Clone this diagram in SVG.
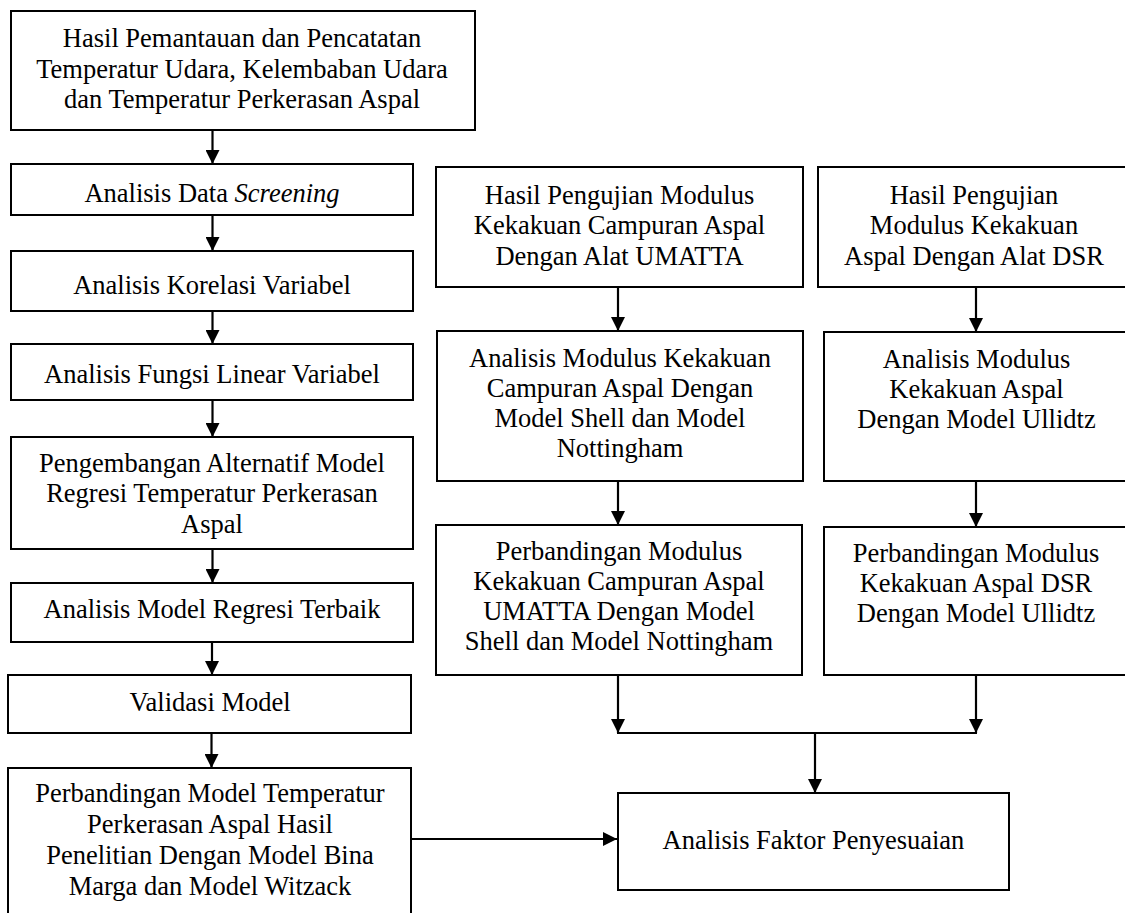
<svg xmlns="http://www.w3.org/2000/svg" width="1125" height="913" viewBox="0 0 1125 913">
<style>
.box{fill:#fff;stroke:#000;stroke-width:2}
.t{font-family:"Liberation Serif","Times New Roman",serif;font-size:26.5px;fill:#000;text-anchor:middle}
.c{fill:none;stroke:#000;stroke-width:2.2}
</style>
<defs>
<marker id="ah" markerUnits="userSpaceOnUse" markerWidth="14" markerHeight="14" refX="14" refY="7" orient="auto">
<path d="M0,0 L14,7 L0,14 z" fill="#000"/>
</marker>
</defs>
<rect width="1125" height="913" fill="#fff"/>
<g id="connectors">
<line class="c" x1="212.5" y1="130" x2="212.5" y2="164" marker-end="url(#ah)"/>
<line class="c" x1="212.5" y1="215" x2="212.5" y2="251" marker-end="url(#ah)"/>
<line class="c" x1="212.5" y1="311" x2="212.5" y2="344" marker-end="url(#ah)"/>
<line class="c" x1="212.5" y1="400" x2="212.5" y2="437" marker-end="url(#ah)"/>
<line class="c" x1="212.5" y1="549" x2="212.5" y2="583" marker-end="url(#ah)"/>
<line class="c" x1="212" y1="642" x2="212" y2="675" marker-end="url(#ah)"/>
<line class="c" x1="211.5" y1="733" x2="211.5" y2="768" marker-end="url(#ah)"/>
<line class="c" x1="618" y1="287" x2="618" y2="331" marker-end="url(#ah)"/>
<line class="c" x1="618" y1="481" x2="618" y2="525" marker-end="url(#ah)"/>
<line class="c" x1="976" y1="287" x2="976" y2="332" marker-end="url(#ah)"/>
<line class="c" x1="976" y1="481" x2="976" y2="527" marker-end="url(#ah)"/>
<line class="c" x1="618" y1="675" x2="618" y2="733" marker-end="url(#ah)"/>
<line class="c" x1="976" y1="675" x2="976" y2="733" marker-end="url(#ah)"/>
<line class="c" x1="617" y1="733" x2="977" y2="733"/>
<line class="c" x1="815" y1="733" x2="815" y2="793" marker-end="url(#ah)"/>
<line class="c" x1="411" y1="839" x2="617" y2="839" marker-end="url(#ah)"/>
</g>
<g id="n1">
<rect class="box" x="11" y="11" width="464" height="119"/>
<text class="t" x="242" y="46.5">Hasil Pemantauan dan Pencatatan</text>
<text class="t" x="242" y="77.5">Temperatur Udara, Kelembaban Udara</text>
<text class="t" x="242" y="108.3">dan Temperatur Perkerasan Aspal</text>
</g>
<g id="n2">
<rect class="box" x="11" y="164" width="402" height="51"/>
<text class="t" x="212" y="202">Analisis Data <tspan font-style="italic">Screening</tspan></text>
</g>
<g id="n3">
<rect class="box" x="11" y="251" width="402" height="60"/>
<text class="t" x="212" y="294">Analisis Korelasi Variabel</text>
</g>
<g id="n4">
<rect class="box" x="11" y="344" width="402" height="56"/>
<text class="t" x="212" y="382.7">Analisis Fungsi Linear Variabel</text>
</g>
<g id="n5">
<rect class="box" x="11" y="437" width="402" height="112"/>
<text class="t" x="212" y="471.5">Pengembangan Alternatif Model</text>
<text class="t" x="212" y="502.3">Regresi Temperatur Perkerasan</text>
<text class="t" x="212" y="533.1">Aspal</text>
</g>
<g id="n6">
<rect class="box" x="11" y="583" width="402" height="59"/>
<text class="t" x="212" y="618.3">Analisis Model Regresi Terbaik</text>
</g>
<g id="n7">
<rect class="box" x="8" y="675" width="403" height="58"/>
<text class="t" x="210" y="710.7">Validasi Model</text>
</g>
<g id="n8">
<rect class="box" x="8" y="768" width="403" height="160"/>
<text class="t" x="210" y="802">Perbandingan Model Temperatur</text>
<text class="t" x="210" y="833">Perkerasan Aspal Hasil</text>
<text class="t" x="210" y="863.5">Penelitian Dengan Model Bina</text>
<text class="t" x="210" y="894.5">Marga dan Model Witzack</text>
</g>
<g id="n9">
<rect class="box" x="436" y="167" width="367" height="120"/>
<text class="t" x="619.5" y="203.5">Hasil Pengujian Modulus</text>
<text class="t" x="619.5" y="234.3">Kekakuan Campuran Aspal</text>
<text class="t" x="619.5" y="265.1">Dengan Alat UMATTA</text>
</g>
<g id="n10">
<rect class="box" x="437" y="331" width="366" height="150"/>
<text class="t" x="620" y="366.7">Analisis Modulus Kekakuan</text>
<text class="t" x="620" y="396.9">Campuran Aspal Dengan</text>
<text class="t" x="620" y="427.1">Model Shell dan Model</text>
<text class="t" x="620" y="457.3">Nottingham</text>
</g>
<g id="n11">
<rect class="box" x="436" y="525" width="366" height="150"/>
<text class="t" x="619" y="560">Perbandingan Modulus</text>
<text class="t" x="619" y="590">Kekakuan Campuran Aspal</text>
<text class="t" x="619" y="620">UMATTA Dengan Model</text>
<text class="t" x="619" y="650">Shell dan Model Nottingham</text>
</g>
<g id="n12">
<rect class="box" x="818" y="167" width="312" height="120"/>
<text class="t" x="974" y="203.5">Hasil Pengujian</text>
<text class="t" x="974" y="234.3">Modulus Kekakuan</text>
<text class="t" x="974" y="265.1">Aspal Dengan Alat DSR</text>
</g>
<g id="n13">
<rect class="box" x="824" y="332" width="306" height="149"/>
<text class="t" x="976.5" y="367.5">Analisis Modulus</text>
<text class="t" x="976.5" y="398">Kekakuan Aspal</text>
<text class="t" x="976.5" y="428.3">Dengan Model Ullidtz</text>
</g>
<g id="n14">
<rect class="box" x="824" y="527" width="306" height="148"/>
<text class="t" x="976" y="561.7">Perbandingan Modulus</text>
<text class="t" x="976" y="591.9">Kekakuan Aspal DSR</text>
<text class="t" x="976" y="622.3">Dengan Model Ullidtz</text>
</g>
<g id="n15">
<rect class="box" x="618" y="793" width="391" height="97"/>
<text class="t" x="813.5" y="848.5">Analisis Faktor Penyesuaian</text>
</g>
</svg>
